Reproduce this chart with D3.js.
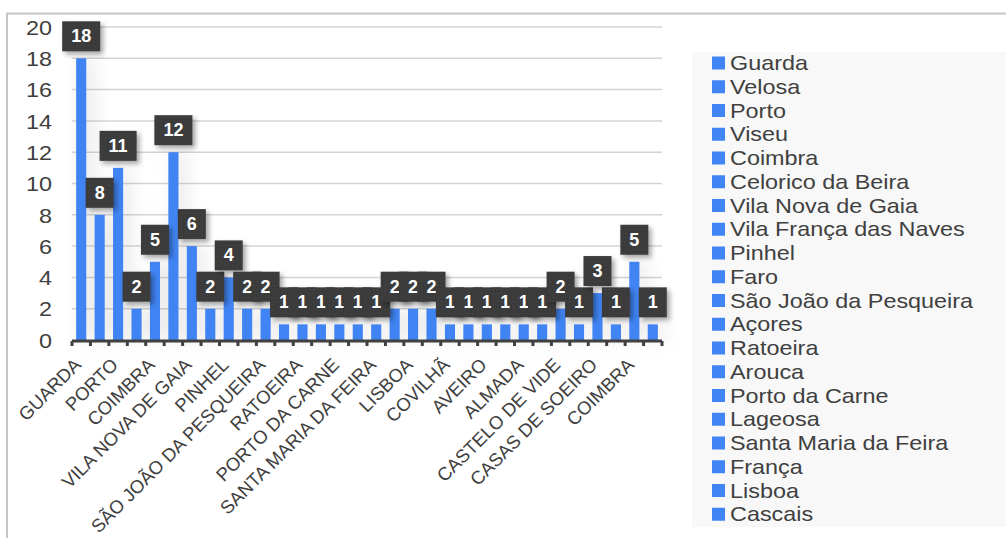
<!DOCTYPE html>
<html><head><meta charset="utf-8">
<script src="https://cdn.jsdelivr.net/npm/d3@7"></script>
<style>
html,body{margin:0;padding:0;background:#fff;}
svg{display:block;font-family:"Liberation Sans",Arial,sans-serif;}
</style></head>
<body>
<svg id="chart" width="1006" height="538"></svg>
<script>
const categories = ["Guarda","Velosa","Porto","Viseu","Coimbra","Celorico da Beira","Vila Nova de Gaia","Vila França das Naves","Pinhel","Faro","São João da Pesqueira","Açores","Ratoeira","Arouca","Porto da Carne","Lageosa","Santa Maria da Feira","França","Lisboa","Cascais","Covilhã","Fundão","Aveiro","Sabugal","Almada","Trancoso","Castelo de Vide","Seia","Casas de Soeiro","Gouveia","Coimbra","Braga"];
const values = [18,8,11,2,5,12,6,2,4,2,2,1,1,1,1,1,1,2,2,2,1,1,1,1,1,1,2,1,3,1,5,1];
const legendItems = categories.slice(0,20);
const yTicks = [0,2,4,6,8,10,12,14,16,18,20];

const SX = 1.17; // horizontal text stretch seen in the reference

const svg = d3.select("#chart");
const defs = svg.append("defs");
const sh = defs.append("filter").attr("id","barShadow").attr("x","-200%").attr("y","-20%").attr("width","600%").attr("height","140%");
sh.append("feDropShadow").attr("dx",6).attr("dy",0).attr("stdDeviation",9).attr("flood-color","#000").attr("flood-opacity",0.12);
const ls = defs.append("filter").attr("id","lblShadow").attr("x","-30%").attr("y","-30%").attr("width","170%").attr("height","170%");
ls.append("feDropShadow").attr("dx",3).attr("dy",3).attr("stdDeviation",2.5).attr("flood-color","#000").attr("flood-opacity",0.35);
const pat = defs.append("pattern").attr("id","dots").attr("width",4).attr("height",4).attr("patternUnits","userSpaceOnUse");
pat.append("rect").attr("width",4).attr("height",4).attr("fill","#3a3a3a");
pat.append("rect").attr("x",1).attr("y",1).attr("width",1).attr("height",1).attr("fill","#4a4a4a");

// outer border
svg.append("path").attr("d","M7,538 L7,13.5 L1006,13.5").attr("fill","none").attr("stroke","#c6c6c6").attr("stroke-width",2);

const x = d3.scaleBand().domain(d3.range(categories.length)).range([72,662]).paddingInner(0.45).paddingOuter(0.225);
const y = d3.scaleLinear().domain([0,20]).range([340,27]);

// gridlines
svg.append("g").selectAll("line").data(yTicks.filter(d=>d>0)).join("line")
  .attr("x1",72).attr("x2",662).attr("y1",d=>y(d)).attr("y2",d=>y(d))
  .attr("stroke","#d4d4d4").attr("stroke-width",1.5);

// y axis labels
const yAxis = d3.axisLeft(y).tickValues(yTicks).tickSize(0).tickPadding(0);
const yg = svg.append("g").attr("transform","translate(52,0)").call(yAxis);
yg.select(".domain").remove();
yg.selectAll(".tick text").attr("font-size",20).attr("fill","#404040").attr("font-family","Liberation Sans, Arial, sans-serif")
  .attr("x",0).attr("dy","0.36em").attr("transform",`scale(${SX},1)`);

// bars
svg.append("g").attr("filter","url(#barShadow)").selectAll("rect").data(values).join("rect")
  .attr("x",(d,i)=>x(i)).attr("width",x.bandwidth())
  .attr("y",d=>y(d)).attr("height",d=>y(0)-y(d))
  .attr("fill","#4184f3");

// x axis
const step = x.step();
const xg = svg.append("g");
xg.append("line").attr("x1",72).attr("x2",662).attr("y1",341).attr("y2",341).attr("stroke","#404040").attr("stroke-width",3);
xg.selectAll("line.tk").data(d3.range(categories.length+1)).join("line").attr("class","tk")
  .attr("x1",i=>72+i*step).attr("x2",i=>72+i*step).attr("y1",341).attr("y2",346)
  .attr("stroke","#404040").attr("stroke-width",3);

// x labels (every other)
svg.append("g").selectAll("text").data(categories.map((c,i)=>({c,i})).filter(d=>d.i%2===0)).join("text")
  .attr("transform",d=>`translate(${x(d.i)+x.bandwidth()/2+1},366) rotate(-45)`)
  .attr("text-anchor","end").attr("font-size",18.5).attr("fill","#404040")
  .text(d=>d.c.toUpperCase());

// data labels
const lg = svg.append("g");
values.forEach((v,i)=>{
  const cx = x(i)+x.bandwidth()/2;
  const g = lg.append("g");
  const t = g.append("text").attr("x",cx).attr("y",y(v)-7-9).attr("text-anchor","middle")
    .attr("font-size",18).attr("font-weight","bold").attr("fill","#fff").text(v);
  const w = t.node().getComputedTextLength()+18;
  g.insert("rect","text").attr("x",cx-w/2).attr("y",y(v)-7-30).attr("width",w).attr("height",30)
    .attr("fill","url(#dots)").attr("filter","url(#lblShadow)");
});

// legend
svg.append("rect").attr("x",692).attr("y",52).attr("width",314).attr("height",475).attr("fill","#f8f8f8");
const leg = svg.append("g").selectAll("g").data(legendItems).join("g")
  .attr("transform",(d,i)=>`translate(0,${63+i*23.75})`);
leg.append("rect").attr("x",712).attr("y",-6.5).attr("width",13).attr("height",13).attr("fill","#4184f3");
leg.append("text").attr("transform",`translate(730,0) scale(${SX},1)`).attr("dy","0.36em").attr("font-size",20).attr("fill","#404040").text(d=>d);
</script>
</body></html>
